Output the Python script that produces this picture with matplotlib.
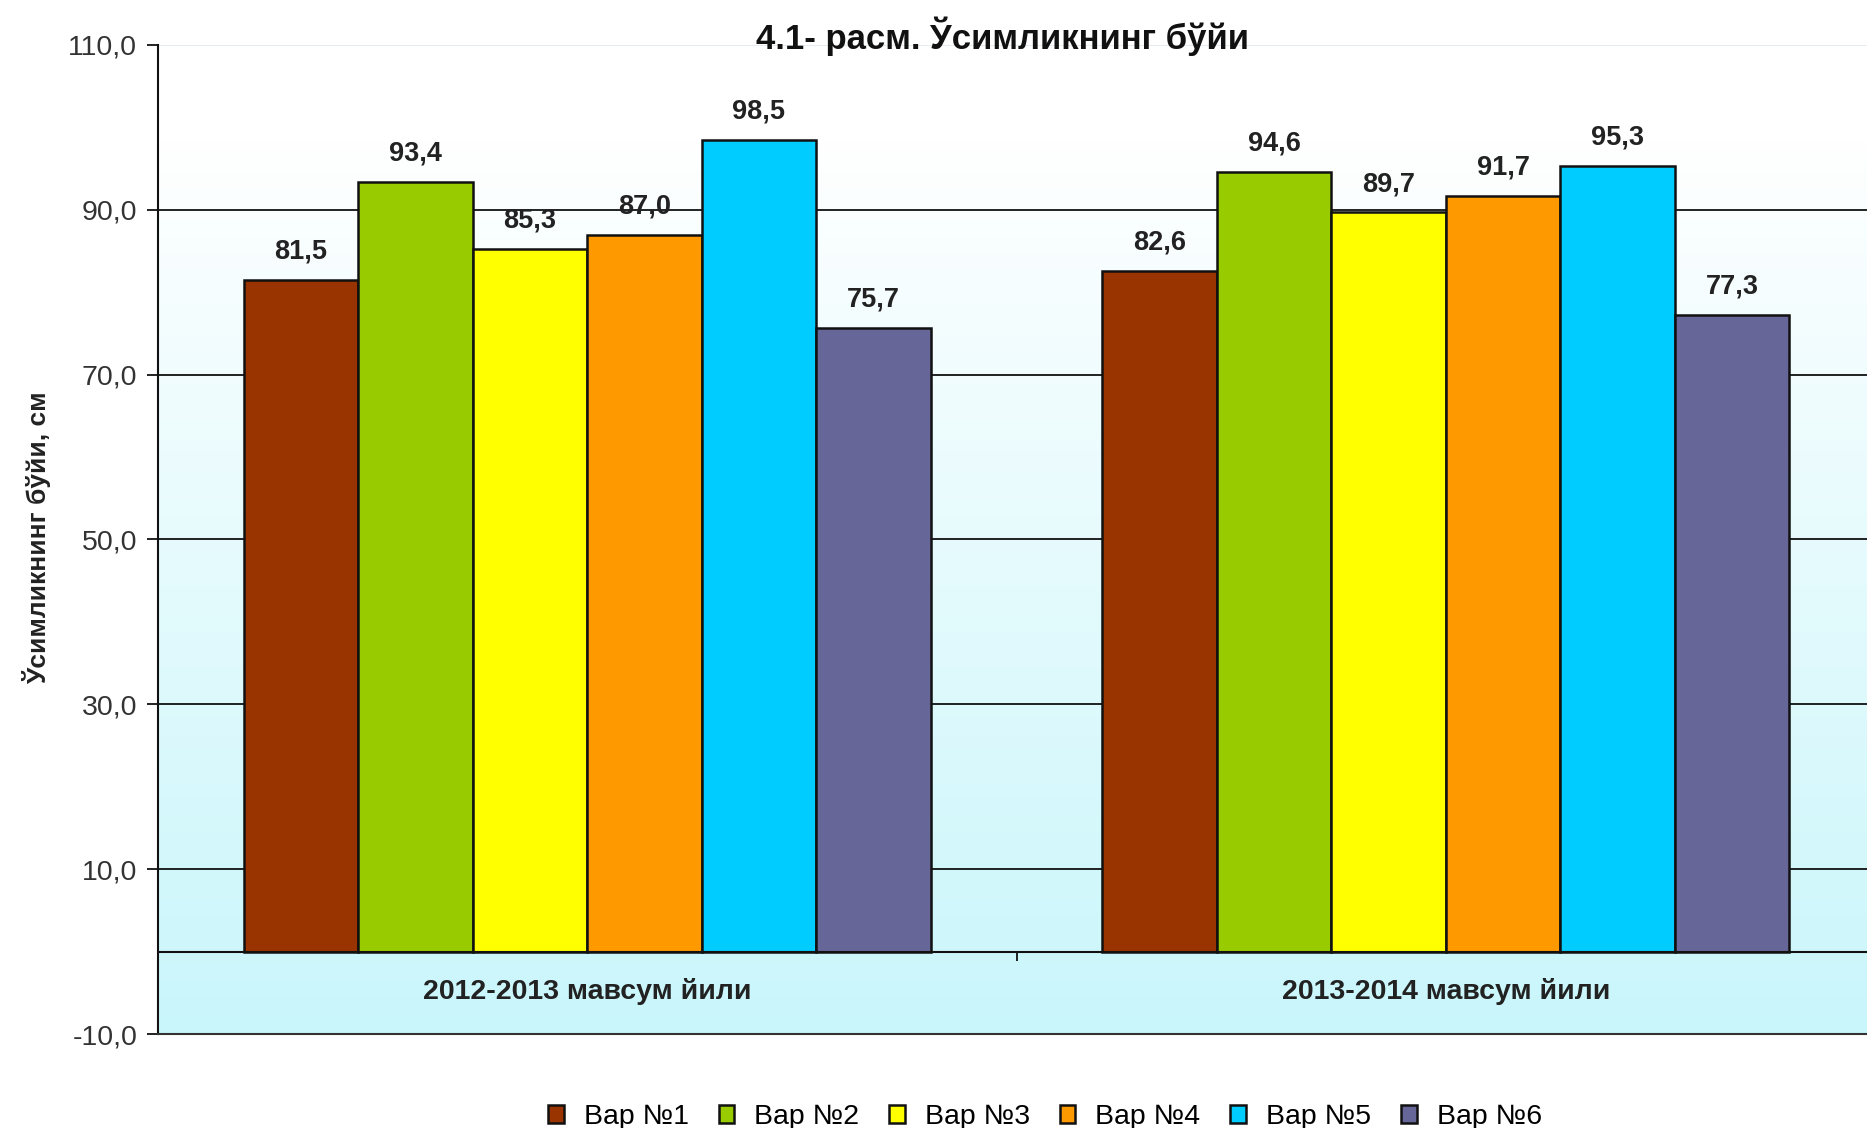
#!/usr/bin/env python3
"""
Bar chart of plant height per variant for two seasons
"""

import numpy as np
import matplotlib.pyplot as plt
from matplotlib.colors import LinearSegmentedColormap

# Data
seasons = ['2012-2013 мавсум йили', '2013-2014 мавсум йили']
variants = ['Вар №1', 'Вар №2', 'Вар №3', 'Вар №4', 'Вар №5', 'Вар №6']
var1 = [81.5, 82.6]
var2 = [93.4, 94.6]
var3 = [85.3, 89.7]
var4 = [87.0, 91.7]
var5 = [98.5, 95.3]
var6 = [75.7, 77.3]
y_ticks = [-10, 10, 30, 50, 70, 90, 110]

colors = ['#993300', '#99CC00', '#FFFF00', '#FF9900', '#00CCFF', '#666699']


def fmt(v):
    return f'{v:.1f}'.replace('.', ',')


def create_chart():
    plt.rcParams['font.family'] = ['Liberation Sans', 'DejaVu Sans']

    fig = plt.figure(figsize=(18.67, 11.28), dpi=100)
    ax = fig.add_axes([158 / 1867, 1 - 1034 / 1128, 1 - 158 / 1867, (1034 - 45) / 1128])

    ax.set_xlim(-0.5, 1.4906)
    ax.set_ylim(-10, 110)

    # Background gradient (white at top, light cyan at bottom)
    cmap = LinearSegmentedColormap.from_list('bg', ['#ffffff', '#c9f6fb'])
    grad = np.linspace(1, 0, 256).reshape(-1, 1)
    grad = np.clip(grad * 1.1, 0, 1)
    ax.imshow(1 - grad, extent=(-0.5, 1.5, -10, 110), aspect='auto',
              cmap=cmap, zorder=0, origin='upper')

    # Gridlines
    for t in y_ticks[1:-1]:
        ax.axhline(t, color='#111111', linewidth=1.3, zorder=1)
    ax.axhline(110, color='#dfeaf0', linewidth=1.3, zorder=1)
    ax.axhline(0, color='#111111', linewidth=1.5, zorder=3)
    ax.vlines(0.5, -1.2, 0, color='#111111', linewidth=1.3, zorder=3)

    series = [var1, var2, var3, var4, var5, var6]
    x = np.arange(len(seasons))
    width = 0.8 / len(series)

    for i, (vals, name, c) in enumerate(zip(series, variants, colors)):
        pos = x - 0.4 + width * (i + 0.5)
        ax.bar(pos, vals, width=width, color=c, edgecolor='#111111',
               linewidth=1.8, label=name, zorder=2)
        for px, v in zip(pos, vals):
            ax.annotate(fmt(v), (px, v), xytext=(0, 11), textcoords='offset points',
                        ha='center', va='bottom', fontsize=19.5, fontweight='bold',
                        color='#222222', zorder=4)

    # Category labels inside the plot
    for xi, s in zip(x, seasons):
        ax.text(xi, -4.8, s, ha='center', va='center', fontsize=20.5,
                fontweight='bold', color='#222222')

    ax.set_xticks([])
    ax.set_yticks(y_ticks)
    ax.set_yticklabels([fmt(t) for t in y_ticks], fontsize=20.5, color='#333333')
    ax.tick_params(axis='y', length=8, width=1.3, pad=7, color='#111111')

    for side in ['top', 'right']:
        ax.spines[side].set_visible(False)
    ax.spines['left'].set_linewidth(1.5)
    ax.spines['left'].set_color('#111111')
    ax.spines['bottom'].set_linewidth(1.5)
    ax.spines['bottom'].set_color('#333333')

    fig.text(1003 / 1867, 1 - 36 / 1128, '4.1- расм. Ўсимликнинг бўйи',
             ha='center', va='center', fontsize=25, fontweight='bold', color='#111111')
    fig.text(37 / 1867, 1 - 538 / 1128, 'Ўсимликнинг бўйи, см', rotation=90,
             ha='center', va='center', fontsize=19, fontweight='bold', color='#222222')

    fig.legend(loc='center', bbox_to_anchor=(1045 / 1867, 1 - 1117 / 1128), ncol=6,
               frameon=False, fontsize=20.5, handlelength=0.55, handleheight=0.55,
               handletextpad=0.7, columnspacing=1.05, borderpad=0)

    plt.savefig('out.png', dpi=100)
    print("Saved out.png")


if __name__ == "__main__":
    create_chart()
